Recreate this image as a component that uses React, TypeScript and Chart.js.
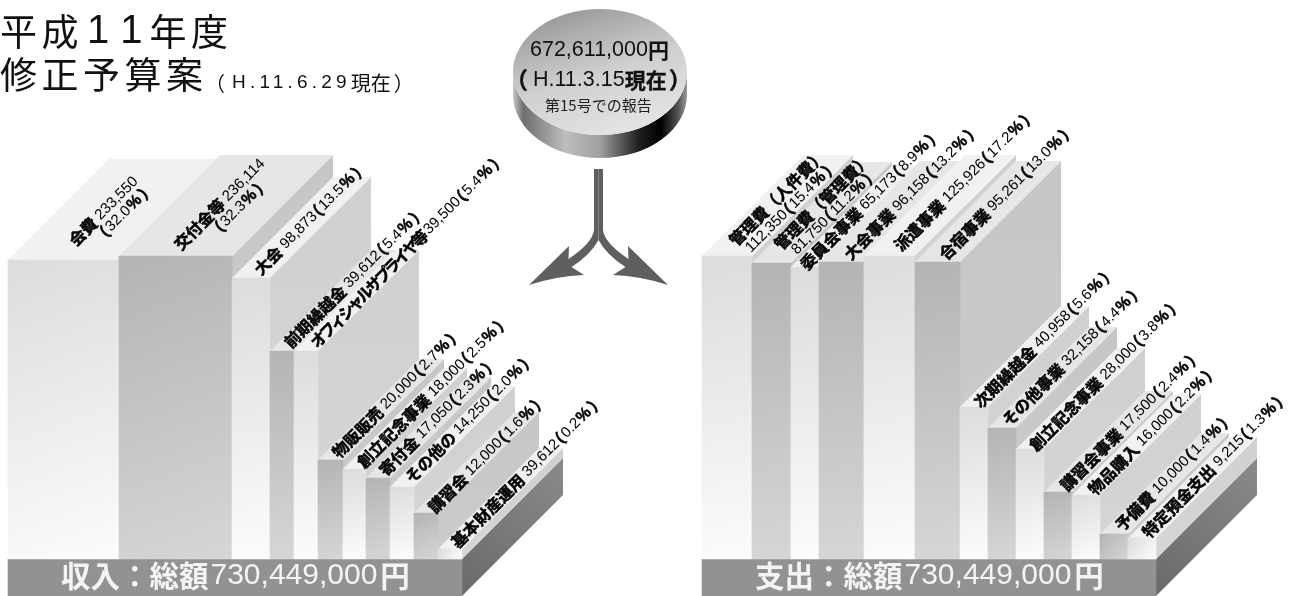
import React, { useEffect, useRef } from "react";
import { Chart, registerables } from "chart.js";

Chart.register(...registerables);

// ---------- data ----------
const incomeNames = ["会費", "交付金等", "大会", "前期繰越金", "オフィシャルサプライヤ等", "物販販売", "創立記念事業", "寄付金", "その他の", "講習会", "基本財産運用"];
const incomeAmounts = [233550, 236114, 98873, 39612, 39500, 20000, 18000, 17050, 14250, 12000, 39612];
const incomePercents = [32.0, 32.3, 13.5, 5.4, 5.4, 2.7, 2.5, 2.3, 2.0, 1.6, 0.2];
const incomeBarWidths = [111, 113, 38, 24, 24, 25, 23, 24, 24, 24, 24];
const incomeBarHeights = [299, 303, 281, 208, 208, 99, 90, 81, 72, 46, 10];

const expenseNames = ["管理費（人件費）", "管理費（管理費）", "委員会事業", "大会事業", "派遣事業", "合宿事業", "次期繰越金", "その他事業", "創立記念事業", "講習会事業", "物品購入", "予備費", "特定預金支出"];
const expenseAmounts = [112350, 81750, 65173, 96158, 125926, 95261, 40958, 32158, 28000, 17500, 16000, 10000, 9215];
const expensePercents = [15.4, 11.2, 8.9, 13.2, 17.2, 13.0, 5.6, 4.4, 3.8, 2.4, 2.2, 1.4, 1.3];
const expenseBarWidths = [50, 39, 28, 45, 51, 45, 28, 28, 28, 28, 28, 28, 28];
const expenseBarHeights = [303, 296, 292, 297, 303, 297, 152, 131, 110, 67, 64, 25, 21];

const incomeTitle = "収入：総額";
const expenseTitle = "支出：総額";
const totalText = "730,449,000";

// ---------- layout and styling ----------
const W = 1292;
const H = 596;
const BASE_Y = 559;
const PLINTH = 37;
const DEPTH = 101;
const INCOME_X = 8;
const EXPENSE_X = 702;
const CJK = '"Noto Sans CJK JP"';
const LATIN = '"Liberation Sans"';

const incomeShift = [[64, -17, 88, -19], [58, -9, 92, -20], [25, -6], [17, -6], [19, -6], [17, -5], [17, -4], [16, -5], [18, -7], [17, -3], [16, -4]];
const expenseShift = [[30, -13, 46, -6], [25, -16, 42, -11], [12, 0], [28, -5], [33, -8], [27, -5], [17, -2], [17, -5], [16, -1], [19, -4], [19, -3], [18, -6], [17, -3]];

type Run = { t: string; font: string; dx?: number; ls?: number };
type BarMeta = { kind: "bar" | "base"; left: number; width: number; height: number; shade: number; name?: string; amount?: number; pct?: number; shift?: number[]; dark?: boolean };

function drawRuns(ctx: CanvasRenderingContext2D, x: number, y: number, runs: Run[], angle = 0, fill = "#000", heavy = 0) {
  ctx.save();
  ctx.translate(x, y);
  ctx.rotate(angle);
  ctx.textBaseline = "middle";
  ctx.textAlign = "left";
  ctx.fillStyle = fill;
  ctx.strokeStyle = fill;
  let p = 0;
  for (const r of runs) {
    p += r.dx ?? 0;
    ctx.font = r.font;
    (ctx as any).letterSpacing = `${r.ls ?? 0}px`;
    ctx.fillText(r.t, p, 0);
    if (heavy && r.font.startsWith("bold")) {
      ctx.lineWidth = heavy;
      ctx.strokeText(r.t, p, 0);
    }
    p += ctx.measureText(r.t).width;
  }
  ctx.restore();
}

const LABEL_B = `bold 16px ${CJK}`;
const LABEL_R = `15px ${LATIN}`;

function pctRuns(pct: number): Run[] {
  return [
    { t: "（", font: LABEL_B, dx: -8 },
    { t: pct.toFixed(1), font: LABEL_R, dx: 1 },
    { t: "%", font: `bold 16px ${LATIN}`, dx: 1 },
    { t: "）", font: LABEL_B, dx: 2 },
  ];
}

function buildBars(start: number, names: string[], amounts: number[], pcts: number[], widths: number[], heights: number[], shifts: number[][]): BarMeta[] {
  let cursor = start;
  return names.map((name, i) => {
    const b: BarMeta = { kind: "bar", left: cursor, width: widths[i], height: heights[i], shade: i, name, amount: amounts[i], pct: pcts[i], shift: shifts[i], dark: i % 2 === 1 };
    cursor += widths[i];
    return b;
  });
}

const sum = (a: number[]) => a.reduce((s, v) => s + v, 0);

const allBars: BarMeta[] = [
  { kind: "base", left: INCOME_X, width: sum(incomeBarWidths), height: -PLINTH, shade: 0 },
  { kind: "base", left: EXPENSE_X, width: sum(expenseBarWidths), height: -PLINTH, shade: 0 },
  ...buildBars(INCOME_X, incomeNames, incomeAmounts, incomePercents, incomeBarWidths, incomeBarHeights, incomeShift),
  ...buildBars(EXPENSE_X, expenseNames, expenseAmounts, expensePercents, expenseBarWidths, expenseBarHeights, expenseShift),
];

function frontFill(c: any, b: BarMeta) {
  if (b.kind === "base") return "#929292";
  const xs = c.chart.scales.x;
  const ys = c.chart.scales.y;
  if (!xs || !ys) return "#ccc";
  const coords = [xs.getPixelForValue(b.left), ys.getPixelForValue(b.height), xs.getPixelForValue(b.left + b.width), ys.getPixelForValue(0)];
  if (!coords.every(Number.isFinite)) return "#ccc";
  const g = c.chart.ctx.createLinearGradient(coords[0], coords[1], coords[2], coords[3]);
  if (b.dark) {
    g.addColorStop(0, "#b4b4b4");
    g.addColorStop(1, "#d6d6d6");
  } else {
    g.addColorStop(0, "#dcdcdc");
    g.addColorStop(1, "#fcfcfc");
  }
  return g;
}

function poly(ctx: CanvasRenderingContext2D, pts: number[][], fill: any) {
  ctx.beginPath();
  pts.forEach((p, i) => (i ? ctx.lineTo(p[0], p[1]) : ctx.moveTo(p[0], p[1])));
  ctx.closePath();
  ctx.fillStyle = fill;
  ctx.fill();
}

// side and top faces, painted just before each bar's own front
const extrudePlugin = {
  id: "extrude",
  beforeDatasetDraw(chart: any, args: any) {
    const b = allBars[args.index];
    const { ctx, scales: { x, y } } = chart;
    const r = x.getPixelForValue(b.left + b.width);
    const l = x.getPixelForValue(b.left);
    const d = x.getPixelForValue(DEPTH) - x.getPixelForValue(0);
    if (b.kind === "base") {
      const t = y.getPixelForValue(0);
      const bot = y.getPixelForValue(b.height);
      const g = ctx.createLinearGradient(r, bot, r + d, t - d);
      g.addColorStop(0, "#6a6a6a");
      g.addColorStop(1, "#8a8a8a");
      poly(ctx, [[r, t], [r + d, t - d], [r + d, bot - d], [r, bot]], g);
      return;
    }
    const top = y.getPixelForValue(b.height);
    const bot = y.getPixelForValue(0);
    const side = ctx.createLinearGradient(0, top - d, 0, bot);
    side.addColorStop(0, b.dark ? "#c6c6c6" : "#d0d0d0");
    side.addColorStop(1, b.dark ? "#cccccc" : "#d6d6d6");
    poly(ctx, [[r, top], [r + d, top - d], [r + d, bot - d], [r, bot]], side);
    poly(ctx, [[l, top], [l + d, top - d], [r + d, top - d], [r, top]], b.dark ? "#e6e6e6" : "#f1f1f1");
  },
};

function drawDisc(ctx: CanvasRenderingContext2D) {
  const cx = 600, cy = 72, rx = 87, ry = 63, h = 23;
  ctx.save();
  const side = ctx.createLinearGradient(cx - rx, 0, cx + rx, 0);
  side.addColorStop(0, "#c8c8c8");
  side.addColorStop(0.06, "#6e6e6e");
  side.addColorStop(0.3, "#bdbdbd");
  side.addColorStop(0.5, "#a0a0a0");
  side.addColorStop(0.72, "#202020");
  side.addColorStop(0.85, "#000");
  side.addColorStop(0.95, "#555");
  side.addColorStop(1, "#999");
  ctx.beginPath();
  ctx.ellipse(cx, cy + h, rx, ry, 0, 0, Math.PI);
  ctx.lineTo(cx - rx, cy);
  ctx.ellipse(cx, cy, rx, ry, 0, Math.PI, 0, true);
  ctx.closePath();
  ctx.fillStyle = side;
  ctx.fill();
  const top = ctx.createLinearGradient(cx - 20, cy - ry, cx + 20, cy + ry);
  top.addColorStop(0, "#9c9c9c");
  top.addColorStop(0.5, "#cfcfcf");
  top.addColorStop(1, "#e4e4e4");
  ctx.beginPath();
  ctx.ellipse(cx, cy, rx, ry, 0, 0, Math.PI * 2);
  ctx.fillStyle = top;
  ctx.fill();
  ctx.restore();
  drawRuns(ctx, 530, 50, [{ t: "672,611,000", font: `21.5px ${LATIN}` }, { t: "円", font: `bold 21px ${CJK}` }], 0, "#111");
  drawRuns(ctx, 505, 80, [
    { t: "（", font: `bold 23px ${CJK}` },
    { t: "H.11.3.15", font: `21.5px ${LATIN}`, dx: 5 },
    { t: "現在", font: `bold 21px ${CJK}` },
    { t: "）", font: `bold 23px ${CJK}`, dx: 2 },
  ], 0, "#111", 0.3);
  drawRuns(ctx, 545, 105, [{ t: "第15号での報告", font: `15px ${CJK}` }], 0, "#222");
}

function drawArrow(ctx: CanvasRenderingContext2D) {
  const c = 598.5;
  const half = (s: number) => {
    const X = (v: number) => c + s * v;
    ctx.moveTo(X(0), 169);
    ctx.lineTo(X(4.5), 169);
    ctx.lineTo(X(4.5), 230);
    ctx.quadraticCurveTo(X(6), 243, X(30), 259);
    ctx.lineTo(X(29.5), 246);
    ctx.lineTo(X(69.5), 285);
    ctx.quadraticCurveTo(X(42), 276, X(14.5), 275);
    ctx.lineTo(X(27), 267);
    ctx.quadraticCurveTo(X(8), 255, X(0), 240);
    ctx.closePath();
  };
  ctx.save();
  ctx.fillStyle = "#5f5f5f";
  ctx.beginPath();
  half(-1);
  ctx.fill();
  ctx.beginPath();
  half(1);
  ctx.fill();
  ctx.restore();
}

function drawBarLabel(ctx: CanvasRenderingContext2D, b: BarMeta, l: number, top: number) {
  const s = b.shift!;
  const ang = -Math.PI / 4;
  const name = b.name!;
  const num = b.amount!.toLocaleString("en-US");
  const kana = /シャル/.test(name);
  const head: Run = { t: name, font: LABEL_B, ls: kana ? -3 : 0 };
  const amt: Run = { t: num, font: LABEL_R };
  const pct = pctRuns(b.pct!);
  const HV = 0.5;
  if (s.length === 4) {
    if (name.startsWith("管理費")) {
      drawRuns(ctx, l + s[0], top + s[1], [head], ang, "#000", HV);
      drawRuns(ctx, l + s[2], top + s[3], [amt, ...pct], ang, "#000", HV);
    } else {
      drawRuns(ctx, l + s[0], top + s[1], [head, { ...amt, dx: 4 }], ang, "#000", HV);
      drawRuns(ctx, l + s[2], top + s[3], pct.map((r, i) => (i === 0 ? { ...r, dx: 0 } : r)), ang, "#000", HV);
    }
  } else {
    drawRuns(ctx, l + s[0], top + s[1], [head, { ...amt, dx: 4 }, ...pct], ang, "#000", HV);
  }
}

const textPlugin = {
  id: "sceneText",
  afterDraw(chart: any) {
    const { ctx, scales: { x, y } } = chart;
    // labels on the top faces
    allBars.forEach((b) => {
      if (b.kind === "bar") drawBarLabel(ctx, b, x.getPixelForValue(b.left), y.getPixelForValue(b.height));
    });
    // plinth captions
    const capB = `bold 29.5px ${CJK}`;
    const capR = `30px ${LATIN}`;
    const cap = (px: number, title: string) =>
      drawRuns(ctx, px, 576, [{ t: title, font: capB }, { t: totalText, font: capR, dx: 2 }, { t: "円", font: capB, dx: 3 }], 0, "#f4f4f4");
    cap(61, incomeTitle);
    cap(755, expenseTitle);
    // heading
    const big = `37px ${CJK}`;
    const dig = `40px ${LATIN}`;
    drawRuns(ctx, 0, 32, [
      { t: "平成", font: big, ls: 4.5 },
      { t: "1", font: dig, dx: 4 },
      { t: "1", font: dig, dx: 11 },
      { t: "年度", font: big, dx: 7, ls: 4.5 },
    ], 0, "#111");
    drawRuns(ctx, 0, 75, [{ t: "修正予算案", font: big, ls: 4.5 }], 0, "#111");
    drawRuns(ctx, 205, 83, [
      { t: "（", font: `20px ${CJK}` },
      { t: "H.11.6.29", font: `19px ${LATIN}`, dx: 7, ls: 4.2 },
      { t: "現在", font: `20px ${CJK}` },
      { t: "）", font: `20px ${CJK}`, dx: 3 },
    ], 0, "#111");
    drawDisc(ctx);
    drawArrow(ctx);
  },
};

export default function App() {
  const ref = useRef<HTMLCanvasElement | null>(null);
  useEffect(() => {
    if (!ref.current) return;
    const chart = new Chart(ref.current, {
      type: "bar",
      data: {
        datasets: allBars.map((b, i) => ({
          label: b.name ?? "plinth",
          data: [{ x: b.left + b.width / 2, y: b.kind === "base" ? [b.height, 0] : b.height }] as any,
          barThickness: b.width,
          grouped: false,
          order: allBars.length - i,
          borderWidth: 0,
          backgroundColor: (c: any) => frontFill(c, b),
        })),
      },
      options: {
        animation: false,
        responsive: false,
        devicePixelRatio: 1,
        layout: { padding: 0 },
        plugins: { legend: { display: false }, tooltip: { enabled: false }, title: { display: false } },
        scales: {
          x: { type: "linear", offset: false, min: 0, max: W, display: false },
          y: { type: "linear", min: BASE_Y - H, max: BASE_Y, display: false },
        },
      } as any,
      plugins: [extrudePlugin, textPlugin],
    });
    return () => chart.destroy();
  }, []);
  return (
    <div style={{ position: "absolute", left: 0, top: 0, width: W, height: H, background: "#fff" }}>
      <canvas ref={ref} width={W} height={H} style={{ display: "block" }} />
    </div>
  );
}
